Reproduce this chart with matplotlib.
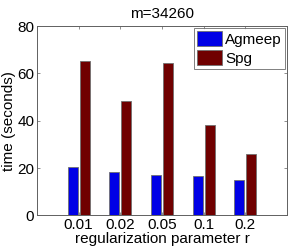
import matplotlib
matplotlib.use("Agg")
import matplotlib.pyplot as plt
import numpy as np

categories = ["0.01", "0.02", "0.05", "0.1", "0.2"]
agmeep = [20.4, 18.2, 17.0, 16.8, 14.9]
spg = [65.3, 48.2, 64.5, 38.3, 25.8]

plt.rcParams['font.family'] = ['Liberation Sans', 'DejaVu Sans']

fig = plt.figure(figsize=(2.91, 2.46), dpi=100)
ax = fig.add_axes([0.127, 0.124, 0.859, 0.770])

x = np.arange(1, len(categories) + 1)
w = 0.24
off = 0.143
ax.bar(x - off, agmeep, w, color='#0000e6', edgecolor='#707070', linewidth=0.6, label='Agmeep')
ax.bar(x + off, spg, w, color='#700000', edgecolor='#707070', linewidth=0.6, label='Spg')

ax.set_xlim(0, 6)
ax.set_ylim(0, 80)
ax.set_xticks(x)
ax.set_xticklabels(categories)
ax.set_yticks([0, 20, 40, 60, 80])
ax.tick_params(direction='in', length=2.5, width=0.5, color='#606060', labelsize=11,
               top=True, right=True, pad=2)
for s in ax.spines.values():
    s.set_color('#606060')
    s.set_linewidth(0.7)

ax.set_xlabel('regularization parameter r', fontsize=11, labelpad=0)
ax.set_ylabel('time (seconds)', fontsize=11, labelpad=1)
ax.set_title('m=34260', fontsize=11, pad=6)

leg = ax.legend(loc='upper right', fontsize=11, frameon=True, fancybox=False,
                borderaxespad=0.1, handlelength=1.6, handleheight=1.1,
                handletextpad=0.2, borderpad=0.25, labelspacing=0.2)
leg.get_frame().set_edgecolor('#606060')
leg.get_frame().set_linewidth(0.7)

fig.savefig('out.png', dpi=100)
